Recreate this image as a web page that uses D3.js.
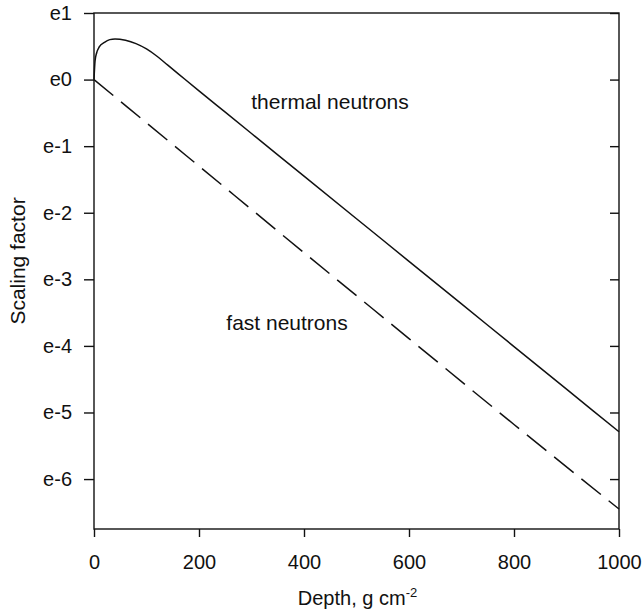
<!DOCTYPE html>
<html>
<head>
<meta charset="utf-8">
<script src="https://cdn.jsdelivr.net/npm/d3@7"></script>
<style>
  body { margin: 0; background: #fff; }
  text { font-family: "Liberation Sans", Arial, sans-serif; fill: #111; }
</style>
</head>
<body>
<div id="chart"></div>
<script>
// thermal neutron curve (ln of scaling factor)
const thermalDepth = [0, 2, 5, 10, 20, 30, 40, 60, 80, 100, 120, 140, 160, 200, 250, 300, 400, 500, 600, 700, 800, 900, 1000];
const thermalLn = [0, 0.28, 0.40, 0.49, 0.56, 0.60, 0.61, 0.59, 0.54, 0.46, 0.35, 0.22, 0.09, -0.17, -0.49, -0.81, -1.45, -2.09, -2.73, -3.37, -4.01, -4.65, -5.29];

// fast neutron curve
const fastDepth = [0, 200, 400, 600, 800, 1000];
const fastLn = [0, -1.30, -2.60, -3.89, -5.18, -6.45];

const xTicks = [0, 200, 400, 600, 800, 1000];
const yTicks = [1, 0, -1, -2, -3, -4, -5, -6];
const yTickLabels = ["e1", "e0", "e-1", "e-2", "e-3", "e-4", "e-5", "e-6"];

const width = 644, height = 614;
const margin = { top: 13, right: 25, bottom: 85, left: 94 };

const svg = d3.select("#chart")
    .append("svg")
    .attr("width", width)
    .attr("height", height);

const x = d3.scaleLinear()
    .domain([0, 1000])
    .range([margin.left, width - margin.right]);

const y = d3.scaleLinear()
    .domain([-6.75, 1])
    .range([height - margin.bottom, margin.top]);

// frame
svg.append("rect")
    .attr("x", x(0))
    .attr("y", y(1))
    .attr("width", x(1000) - x(0))
    .attr("height", y(-6.75) - y(1))
    .attr("fill", "none")
    .attr("stroke", "#111")
    .attr("stroke-width", 1.4);

// left axis, ticks outward
const yAxis = svg.append("g")
    .attr("transform", `translate(${x(0)},0)`)
    .call(d3.axisLeft(y).tickValues(yTicks)
        .tickFormat((d, i) => yTickLabels[i])
        .tickSize(10).tickPadding(12));

// right axis, ticks inward
const yAxisR = svg.append("g")
    .attr("transform", `translate(${x(1000)},0)`)
    .call(d3.axisRight(y).tickValues(yTicks).tickFormat("")
        .tickSizeInner(-9).tickSizeOuter(0));

// bottom axis
const xAxis = svg.append("g")
    .attr("transform", `translate(0,${y(-6.75)})`)
    .call(d3.axisBottom(x).tickValues(xTicks)
        .tickFormat(d3.format("d"))
        .tickSize(8).tickPadding(18));

[yAxis, yAxisR, xAxis].forEach(g => {
    g.select(".domain").remove();
    g.selectAll("line").attr("stroke", "#111").attr("stroke-width", 1.4);
    g.selectAll("text").attr("font-size", 20).attr("fill", "#111")
        .attr("font-family", "'Liberation Sans', Arial, sans-serif");
});

const line = d3.line()
    .x(d => x(d[0]))
    .y(d => y(d[1]))
    .curve(d3.curveMonotoneX);

svg.append("path")
    .datum(d3.zip(thermalDepth, thermalLn))
    .attr("d", line)
    .attr("fill", "none")
    .attr("stroke", "#111")
    .attr("stroke-width", 1.5);

svg.append("path")
    .datum(d3.zip(fastDepth, fastLn))
    .attr("d", line)
    .attr("fill", "none")
    .attr("stroke", "#111")
    .attr("stroke-width", 1.5)
    .attr("stroke-dasharray", "25,10");

// curve labels
svg.append("text")
    .attr("x", 330).attr("y", 109)
    .attr("text-anchor", "middle")
    .attr("font-size", 21)
    .text("thermal neutrons");

svg.append("text")
    .attr("x", 287).attr("y", 330)
    .attr("text-anchor", "middle")
    .attr("font-size", 21)
    .text("fast neutrons");

// axis titles
svg.append("text")
    .attr("transform", `translate(25,${(y(1) + y(-6.75)) / 2 - 10}) rotate(-90)`)
    .attr("text-anchor", "middle")
    .attr("font-size", 21)
    .text("Scaling factor");

const xt = svg.append("text")
    .attr("x", (x(0) + x(1000)) / 2 + 1)
    .attr("y", 605)
    .attr("text-anchor", "middle")
    .attr("font-size", 20);
xt.append("tspan").text("Depth, g cm");
xt.append("tspan").attr("dy", -8).attr("font-size", 13).text("-2");
</script>
</body>
</html>
